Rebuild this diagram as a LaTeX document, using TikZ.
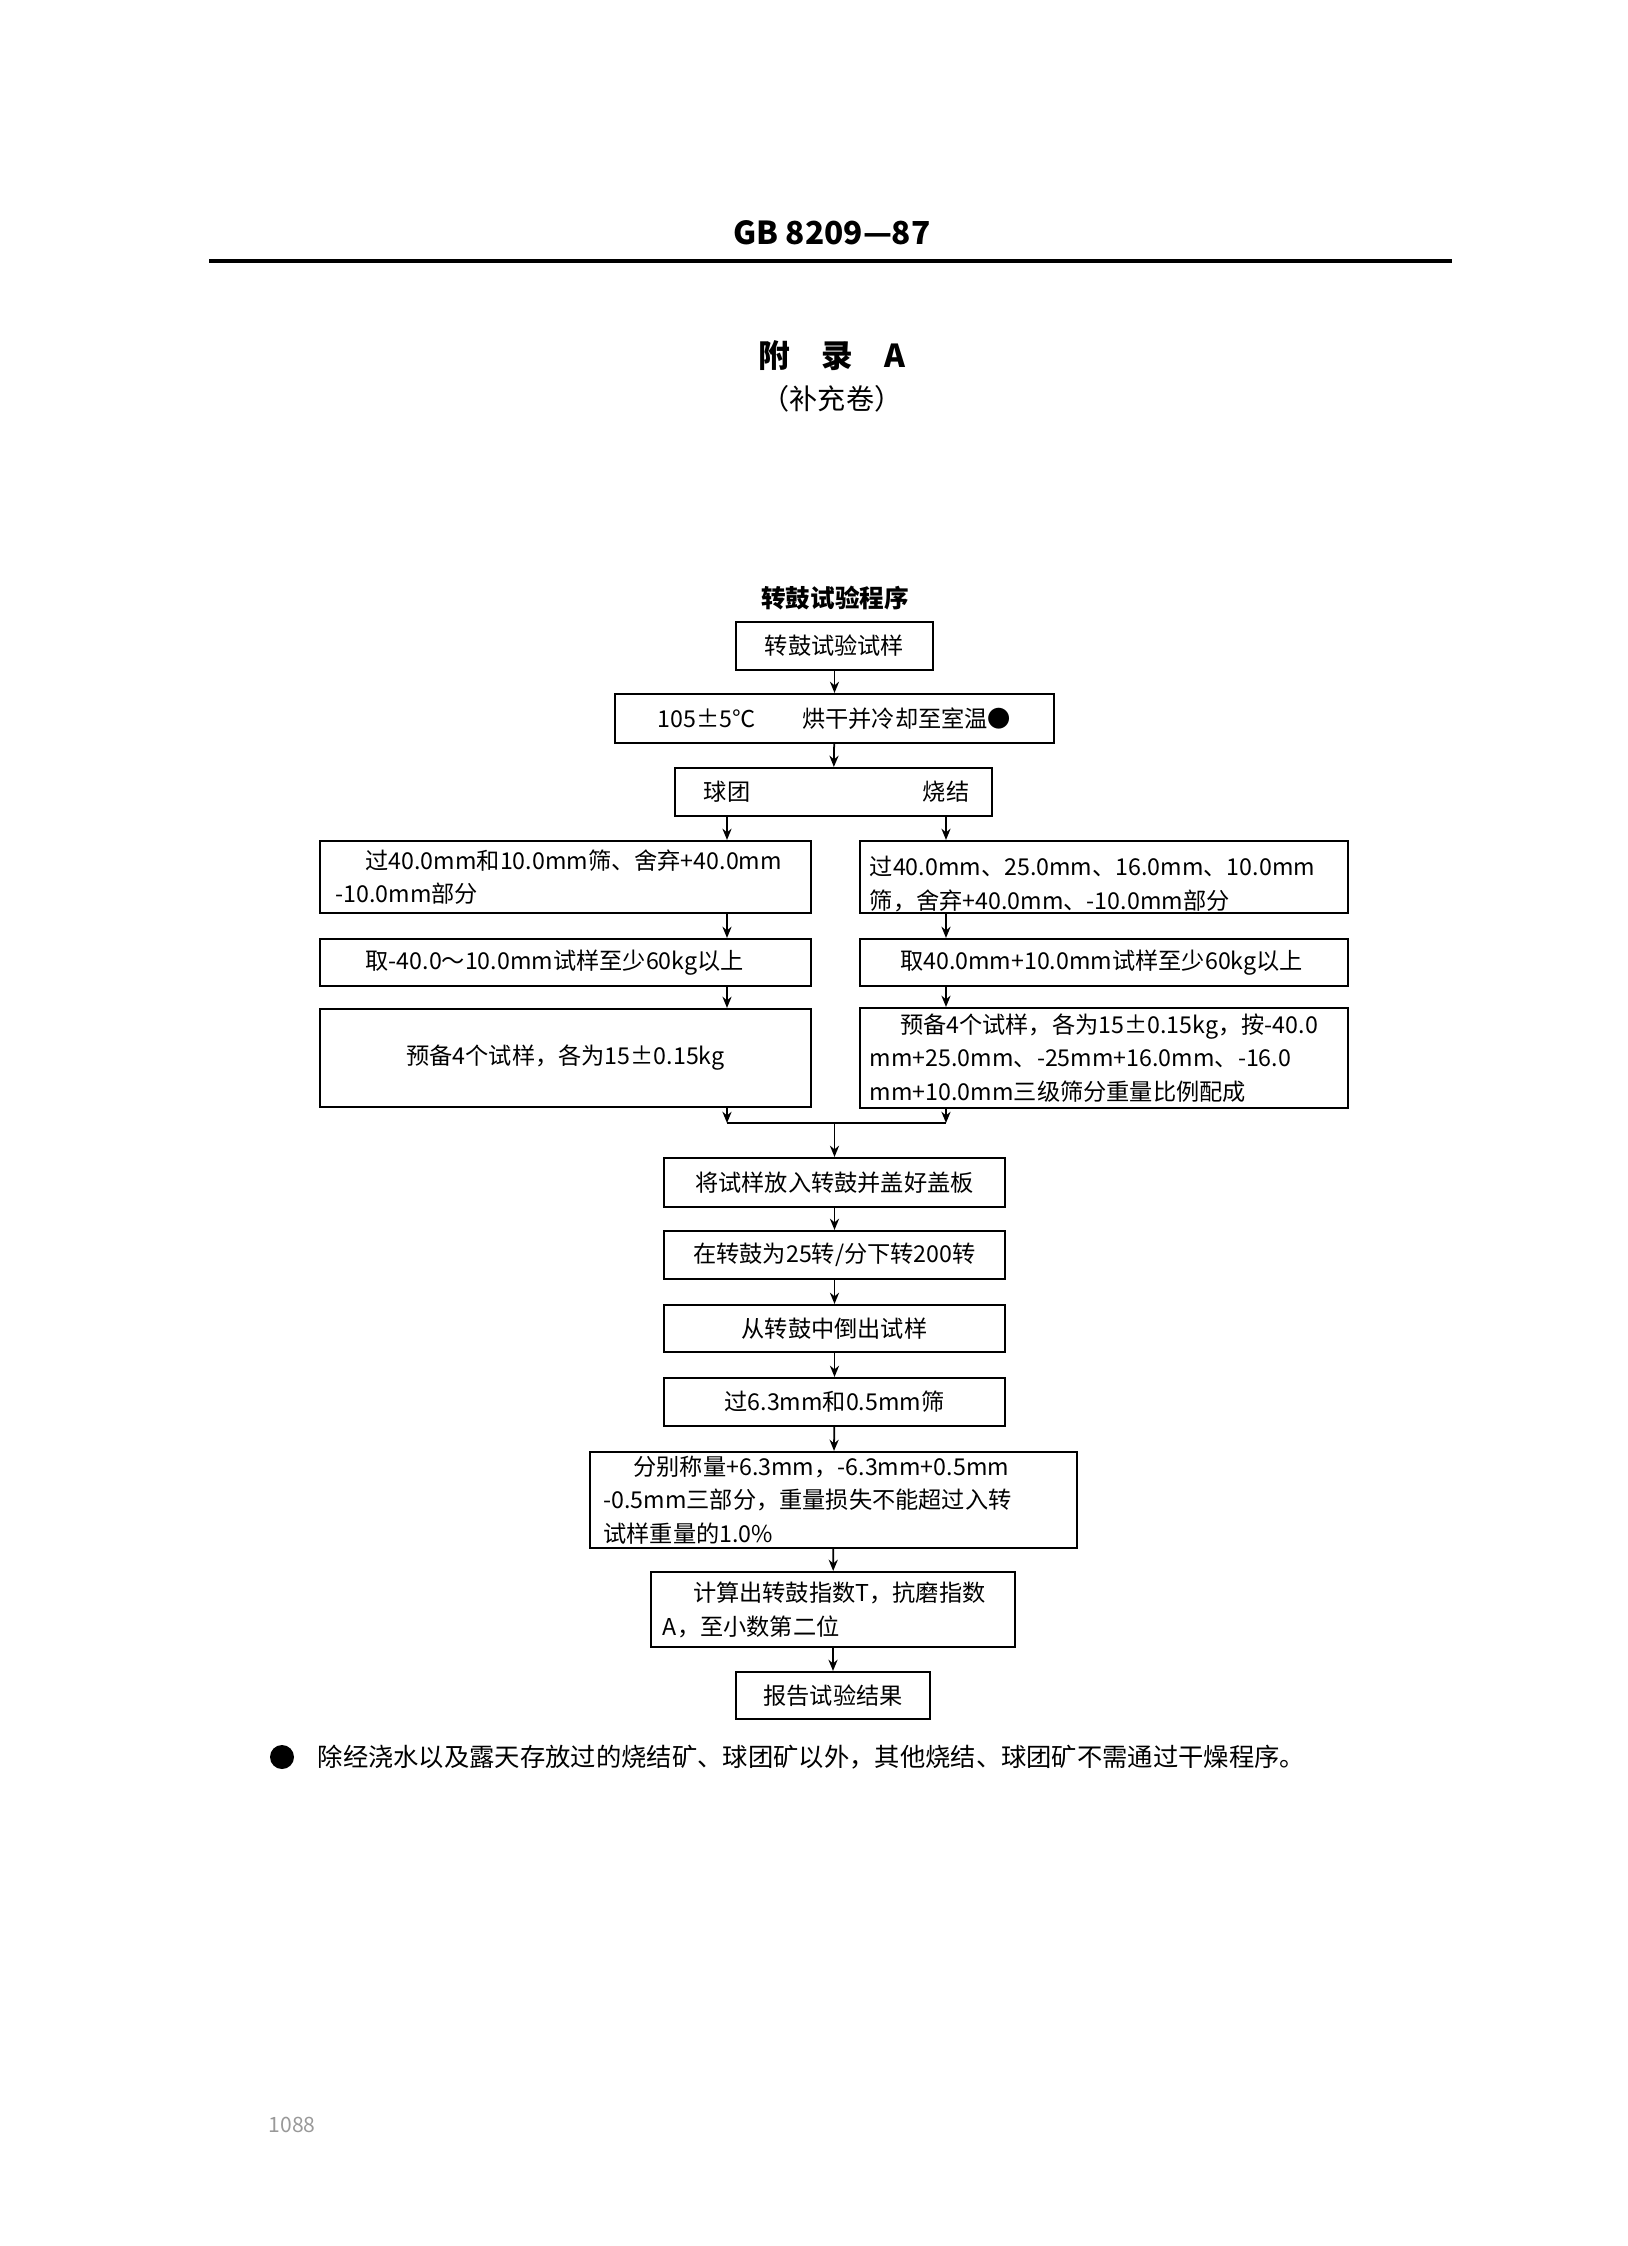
\documentclass[tikz,border=0pt]{standalone}
\usepackage{fontspec}
\setmainfont{Noto Sans CJK SC}
\usetikzlibrary{arrows.meta}
\tikzset{%
  stepbox/.style  = {shape=rectangle, draw, line width=0.6pt, inner sep=0pt,%
                     font=\fontsize{6.6}{9.6}\selectfont},%
  textbox/.style  = {stepbox, align=left, text width=#1},%
  flow/.style     = {-{Stealth[length=3.2pt,width=2.6pt]}, line width=0.5pt},%
  label/.style    = {font=\fontsize{6.6}{9.6}\selectfont, inner sep=0pt}%
}
\begin{document}
\begin{tikzpicture}[x=0.01cm,y=-0.01cm]
	\useasboundingbox (0,0) rectangle (1628,2246);
	% page head
	\node[font=\bfseries\fontsize{9}{11}\selectfont] (head) at (832,233) {GB 8209—87};
	\draw[line width=1.2pt] (209,261) -- (1452,261);
	\node[font=\bfseries\fontsize{9}{11}\selectfont] (app) at (832,356) {附\quad 录\quad A};
	\node[label, font=\fontsize{8}{10}\selectfont] (supp) at (832,399) {（补充卷）};
	\node[label, font=\bfseries\fontsize{7}{9}\selectfont] (title) at (835,598) {转鼓试验程序};
	% upper part
	\node[stepbox, minimum width=1.97cm, minimum height=0.48cm] (sample) at (834.5,646) {转鼓试验试样};
	\node[stepbox, minimum width=4.39cm, minimum height=0.49cm] (dry) at (834.5,718.5) {105±5℃\qquad 烘干并冷却至室温●};
	\node[stepbox, minimum width=3.17cm, minimum height=0.48cm] (kind) at (833.5,792) {};
	\node[label] (pellet) at (727,792) {球团};
	\node[label] (sinter) at (946,792) {烧结};
	% pellet branch
	\node[textbox=4.6cm, minimum width=4.91cm, minimum height=0.72cm] (pa) at (565.5,877)
		{\hspace{1.3em}过40.0mm和10.0mm筛、舍弃+40.0mm\\-10.0mm部分};
	\node[textbox=4.6cm, minimum width=4.91cm, minimum height=0.47cm] (pb) at (565.5,962.5)
		{\hspace{1.3em}取-40.0～10.0mm试样至少60kg以上};
	\node[stepbox, minimum width=4.91cm, minimum height=0.98cm] (pc) at (565.5,1058)
		{预备4个试样，各为15±0.15kg};
	% sinter branch
	\node[textbox=4.68cm, minimum width=4.88cm, minimum height=0.72cm] (sa) at (1104,877)
		{\hspace{1.3em}过40.0mm、25.0mm、16.0mm、10.0mm\\筛，舍弃+40.0mm、-10.0mm部分};
	\node[textbox=4.68cm, minimum width=4.88cm, minimum height=0.47cm] (sb) at (1104,962.5)
		{\hspace{1.3em}取40.0mm+10.0mm试样至少60kg以上};
	\node[textbox=4.68cm, minimum width=4.88cm, minimum height=1.0cm] (sc) at (1104,1058)
		{\hspace{1.3em}预备4个试样，各为15±0.15kg，按-40.0\\mm+25.0mm、-25mm+16.0mm、-16.0\\mm+10.0mm三级筛分重量比例配成};
	\coordinate (joinl) at (727,1123);
	\coordinate (joinr) at (946,1123);
	\coordinate (joinc) at (834.5,1123);
	% lower part
	\node[stepbox, minimum width=3.40cm, minimum height=0.49cm] (load) at (834.5,1182.5) {将试样放入转鼓并盖好盖板};
	\node[stepbox, minimum width=3.40cm, minimum height=0.48cm] (turn) at (834.5,1255) {在转鼓为25转/分下转200转};
	\node[stepbox, minimum width=3.40cm, minimum height=0.47cm] (pour) at (834.5,1328.5) {从转鼓中倒出试样};
	\node[stepbox, minimum width=3.40cm, minimum height=0.48cm] (sieve) at (834.5,1402) {过6.3mm和0.5mm筛};
	\node[textbox=4.6cm, minimum width=4.87cm, minimum height=0.96cm] (weigh) at (833.5,1500)
		{\hspace{1.3em}分别称量+6.3mm，-6.3mm+0.5mm\\-0.5mm三部分，重量损失不能超过入转\\试样重量的1.0\%};
	\node[textbox=3.4cm, minimum width=3.64cm, minimum height=0.75cm] (calc) at (833,1609.5)
		{\hspace{1.3em}计算出转鼓指数\textit{T}，抗磨指数\\\textit{A}，至小数第二位};
	\node[stepbox, minimum width=1.94cm, minimum height=0.47cm] (report) at (833,1695.5) {报告试验结果};
	% connectors
	\draw[flow] (sample) -- (dry);
	\draw[flow] (dry) -- (kind);
	\draw[flow] (kind.south -| pellet) -- (pa.north -| pellet);
	\draw[flow] (kind.south -| sinter) -- (sa.north -| sinter);
	\draw[flow] (pa.south -| pellet) -- (pb.north -| pellet);
	\draw[flow] (sa.south -| sinter) -- (sb.north -| sinter);
	\draw[flow] (pb.south -| pellet) -- (pc.north -| pellet);
	\draw[flow] (sb.south -| sinter) -- (sc.north -| sinter);
	\draw[flow] (pc.south -| pellet) -- (joinl);
	\draw[flow] (sc.south -| sinter) -- (joinr);
	\draw[line width=0.5pt] (joinl) -- (joinr);
	\draw[flow] (joinc) -- (load);
	\draw[flow] (load) -- (turn);
	\draw[flow] (turn) -- (pour);
	\draw[flow] (pour) -- (sieve);
	\draw[flow] (sieve) -- (weigh);
	\draw[flow] (weigh) -- (calc);
	\draw[flow] (calc) -- (report);
	% footnote
	\fill (282,1757) circle (12);
	\node[label, anchor=west, font=\fontsize{7.2}{9}\selectfont] (note) at (317,1757)
		{除经浇水以及露天存放过的烧结矿、球团矿以外，其他烧结、球团矿不需通过干燥程序。};
	\node[label, text=black!40, font=\fontsize{6}{7}\selectfont] (page) at (292,2125) {1088};
\end{tikzpicture}
\end{document}
